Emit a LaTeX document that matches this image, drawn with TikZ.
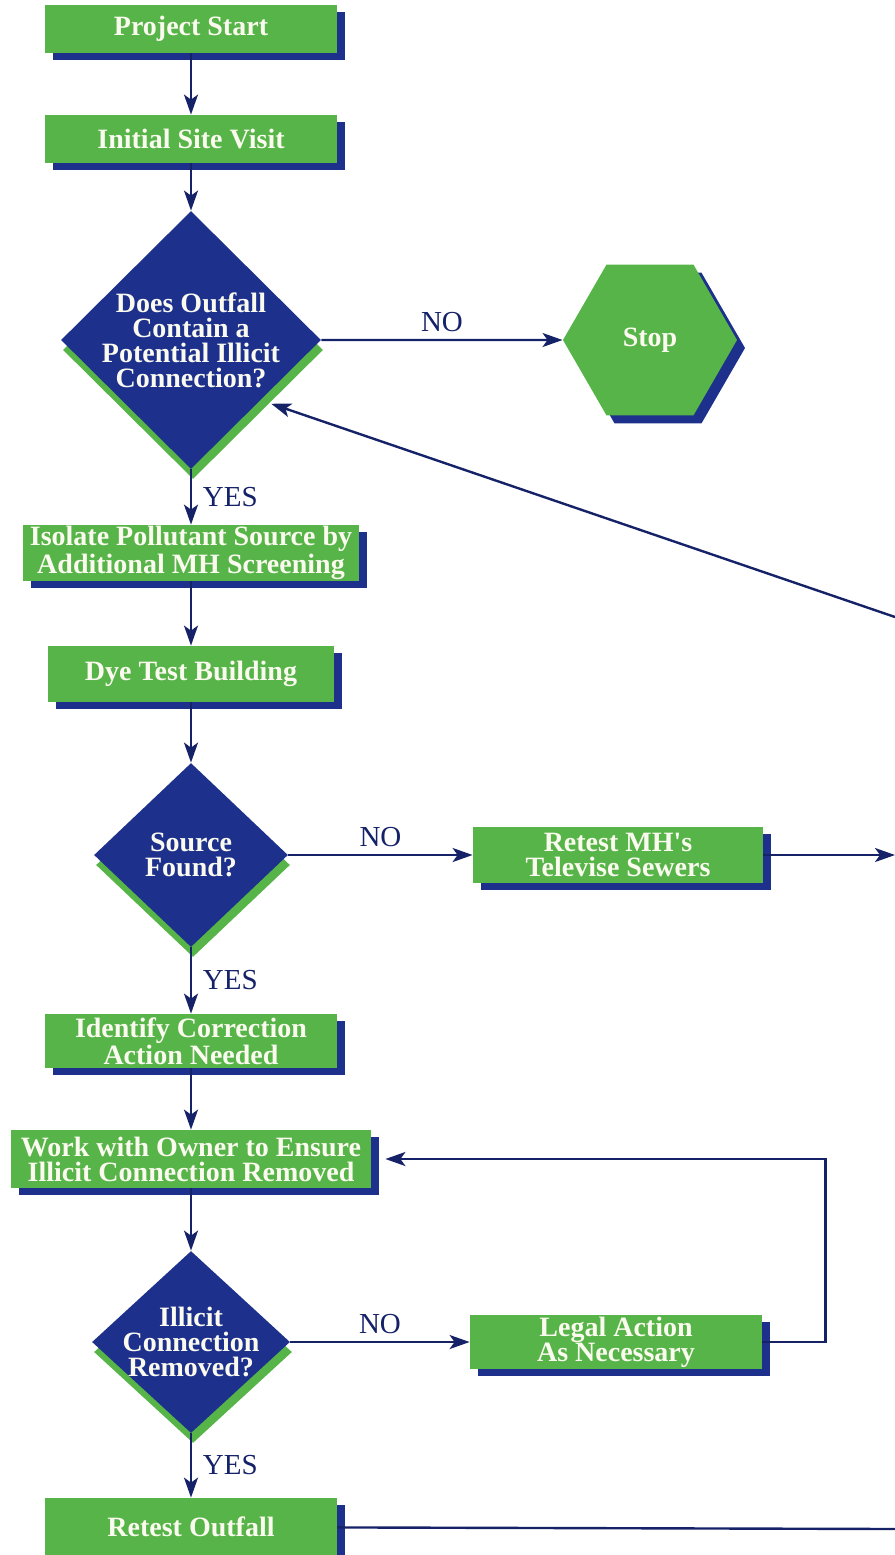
\documentclass[tikz,border=0pt]{standalone}
\usepackage{fontspec}
\setmainfont[FakeStretch=1.0, Ligatures=TeXOff]{Liberation Serif}
\usetikzlibrary{arrows.meta, shapes.geometric, shadows, calc}

\definecolor{boxgreen}{RGB}{86,180,72}
\definecolor{boxblue}{RGB}{28,48,140}
\definecolor{linenavy}{RGB}{22,34,104}
\definecolor{txtwhite}{RGB}{250,250,238}

\newcommand{\boxfont}{\bfseries\fontsize{14}{12.5}\selectfont}
\newcommand{\lblfont}{\fontsize{14.5}{14}\selectfont}

\tikzset{
  stepbox/.style={rectangle, fill=boxgreen, text=txtwhite, font=\boxfont, align=center,
    inner sep=0pt, drop shadow={shadow xshift=4pt, shadow yshift=-3.5pt, fill=boxblue, opacity=1}},
  decision/.style={diamond, aspect=1, fill=boxblue, text=txtwhite, font=\boxfont, align=center,
    inner sep=-5pt, drop shadow={shadow xshift=1pt, shadow yshift=-5pt, fill=boxgreen, opacity=1}},
  stopbox/.style={regular polygon, regular polygon sides=6, fill=boxgreen, text=txtwhite, font=\boxfont,
    inner sep=0pt, drop shadow={shadow xshift=4pt, shadow yshift=-4pt, fill=boxblue, opacity=1}},
  flow/.style={draw=linenavy, line width=1.2pt, -{Stealth[length=10pt, width=7pt, inset=2.5pt]}},
  link/.style={draw=linenavy, line width=1.2pt},
  lbl/.style={text=linenavy, font=\lblfont}
}

\begin{document}
\begin{tikzpicture}[x=0.5pt, y=-0.5pt]
\useasboundingbox (0,0) rectangle (895,1555);

% main column
\node[stepbox, minimum width=146pt, minimum height=24pt] (start) at (191,29) {Project Start};
\node[stepbox, minimum width=146pt, minimum height=24pt] (visit) at (191,139) {Initial Site Visit};
\node[decision, minimum width=130pt, minimum height=129pt] (contain) at (191,340)
  {Does Outfall\\Contain a\\Potential Illicit\\Connection?};
\node[stopbox, minimum size=87pt] (stop) at (650,340) {Stop};
\node[stepbox, minimum width=168pt, minimum height=28pt] (isolate) at (191,553)
  {Isolate Pollutant Source by\\Additional MH Screening};
\node[stepbox, minimum width=143pt, minimum height=28pt] (dye) at (191,674) {Dye Test Building};
\node[decision, minimum width=97pt, minimum height=92pt] (found) at (191,855) {Source\\Found?};
\node[stepbox, minimum width=145pt, minimum height=28pt] (retestmh) at (618,855)
  {Retest MH's\\Televise Sewers};
\node[stepbox, minimum width=146pt, minimum height=27pt] (identify) at (191,1041)
  {Identify Correction\\Action Needed};
\node[stepbox, minimum width=180pt, minimum height=29pt] (work) at (191,1159)
  {Work with Owner to Ensure\\Illicit Connection Removed};
\node[decision, minimum width=99pt, minimum height=91pt] (removed) at (191,1342)
  {Illicit\\Connection\\Removed?};
\node[stepbox, minimum width=146pt, minimum height=27pt] (legal) at (616,1342)
  {Legal Action\\As Necessary};
\node[stepbox, minimum width=146pt, minimum height=29pt] (retestout) at (191,1527) {Retest Outfall};

% loose ends at the right edge
\coordinate (edgeA) at (895,617);
\coordinate (edgeB) at (895,855);
\coordinate (edgeC) at (895,1529);

\draw[flow] (start) -- (visit);
\draw[flow] (visit) -- (contain);
\draw[flow] (contain) -- node[lbl, above] {NO} (stop);
\draw[flow] (contain) -- node[lbl, right, xshift=2pt] {YES} (isolate);
\draw[flow] (edgeA) -- ($(contain.east)!0.4!(contain.south)+(2,12)$);
\draw[flow] (isolate) -- (dye);
\draw[flow] (dye) -- (found);
\draw[flow] (found) -- node[lbl, above] {NO} (retestmh);
\draw[flow] (retestmh) -- (edgeB);
\draw[flow] (found) -- node[lbl, right, xshift=2pt] {YES} (identify);
\draw[flow] (identify) -- (work);
\draw[flow] (work) -- (removed);
\draw[flow] (removed) -- node[lbl, above] {NO} (legal);
\draw[flow, shorten >=7pt] (legal.east) -- ++(63,0) |- (work);
\draw[flow] (removed) -- node[lbl, right, xshift=2pt] {YES} (retestout);
\draw[link] (retestout) -- (edgeC);
\end{tikzpicture}
\end{document}
